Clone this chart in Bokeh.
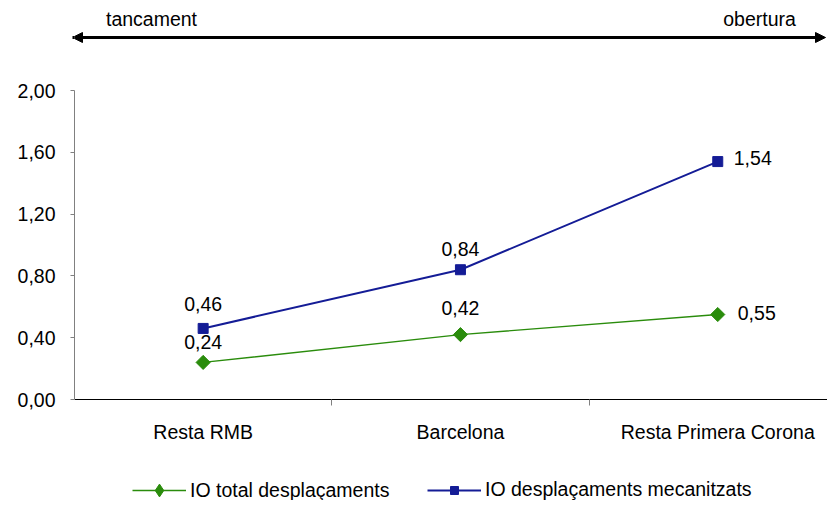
from bokeh.plotting import figure
from bokeh.models import (Range1d, FixedTicker, CustomJSTickFormatter, Arrow, NormalHead,
                          Label, Legend, LegendItem, ColumnDataSource)
from bokeh.embed import file_html
from bokeh.resources import INLINE
from bokeh.core.properties import value
import math

# ---- data ----
categories = ["Resta RMB", "Barcelona", "Resta Primera Corona"]
io_total = [0.24, 0.42, 0.55]
io_mecanitzats = [0.46, 0.84, 1.54]
y_ticks = [0.0, 0.4, 0.8, 1.2, 1.6, 2.0]
series_names = ["IO total desplaçaments", "IO desplaçaments mecanitzats"]
scale_labels = ["tancament", "obertura"]

# ---- styles / layout ----
FONT = "Liberation Sans"
FS = "19.5px"
GREEN = "#2a8c0c"
BLUE = "#141c96"
W, H = 827, 500
LEFT = 74
ZERO_Y = 399          # picture row of value 0
PX_PER_CAT = 257.3
PX_PER_UNIT = 154.5
frame_w = W - LEFT

# label offsets (screen px) per point
total_dx = [0, 0, 39]
total_dy = [-20, -27, -2]
mec_dx = [0, 0, 35]
mec_dy = [-24, -21, -4]


def fx(px):  # picture pixel x -> data x
    return (px - LEFT) / PX_PER_CAT


def fy(py):  # picture pixel y -> data y
    return (ZERO_Y - py) / PX_PER_UNIT


x_pos = [i + 0.5 for i in range(len(categories))]

p = figure(width=W, height=H, output_backend="svg", toolbar_location=None,
           x_range=Range1d(0, frame_w / PX_PER_CAT),
           y_range=Range1d(fy(H), fy(0)),
           min_border_left=LEFT, min_border_right=0, min_border_top=0,
           min_border_bottom=0)
p.xgrid.visible = False
p.ygrid.visible = False
p.outline_line_color = None
p.background_fill_color = "white"
p.border_fill_color = "white"

# x axis (drawn at value 0 inside the frame)
xa = p.xaxis[0]
xa.fixed_location = 0
xa.ticker = FixedTicker(ticks=x_pos, minor_ticks=[i + 1 for i in range(len(categories))])
xa.major_label_overrides = {x: c for x, c in zip(x_pos, categories)}
xa.major_tick_line_color = None
xa.major_tick_out = 0
xa.major_tick_in = 0
xa.minor_tick_out = 6
xa.minor_tick_in = 0
xa.minor_tick_line_color = "#808080"
xa.axis_line_color = "black"
xa.major_label_standoff = 15
xa.major_label_text_font = FONT
xa.major_label_text_font_size = FS
xa.major_label_text_color = "black"

# y axis
ya = p.yaxis[0]
ya.ticker = FixedTicker(ticks=y_ticks)
ya.formatter = CustomJSTickFormatter(code="return tick.toFixed(2).replace('.', ',');")
ya.bounds = (y_ticks[0], y_ticks[-1])
ya.axis_line_color = "#808080"
ya.major_tick_line_color = "#808080"
ya.major_tick_out = 4
ya.major_tick_in = 0
ya.minor_tick_line_color = None
ya.major_label_standoff = 15
ya.major_label_text_font = FONT
ya.major_label_text_font_size = FS
ya.major_label_text_color = "black"

# series
src_t = ColumnDataSource(dict(x=x_pos, y=io_total,
                              lab=[f"{v:.2f}".replace(".", ",") for v in io_total],
                              dx=total_dx, dy=total_dy))
src_m = ColumnDataSource(dict(x=x_pos, y=io_mecanitzats,
                              lab=[f"{v:.2f}".replace(".", ",") for v in io_mecanitzats],
                              dx=mec_dx, dy=mec_dy))

lt = p.line("x", "y", source=src_t, line_color=GREEN, line_width=1.4)
# diamond (used for the legend symbol) sits hidden under the rotated square
dt = p.scatter("x", "y", source=src_t, marker="diamond", size=12,
               fill_color=GREEN, line_color=GREEN)
st = p.scatter("x", "y", source=src_t, marker="square", angle=math.pi / 4, size=10,
               fill_color=GREEN, line_color=GREEN)
lm = p.line("x", "y", source=src_m, line_color=BLUE, line_width=2)
sm = p.scatter("x", "y", source=src_m, marker="square", size=10,
               fill_color=BLUE, line_color=BLUE)

for src in (src_t, src_m):
    p.text("x", "y", text="lab", source=src, x_offset="dx", y_offset="dy",
           text_align="center", text_baseline="middle",
           text_font=value(FONT), text_font_size=FS, text_color="black")

# top arrow and texts
arrow = Arrow(x_start=fx(72), y_start=fy(37), x_end=fx(825), y_end=fy(37),
              line_width=3, line_color="black",
              start=NormalHead(size=10, fill_color="black", line_color="black"),
              end=NormalHead(size=10, fill_color="black", line_color="black"))
p.add_layout(arrow)
for txt, px in zip(scale_labels, [151, 759]):
    p.add_layout(Label(x=fx(px), y=fy(18), text=txt, text_align="center",
                       text_baseline="middle", text_font=FONT, text_font_size=FS,
                       text_color="black"))

common = dict(orientation="horizontal", glyph_width=54, label_standoff=4,
              padding=0, margin=0, border_line_color=None, background_fill_alpha=0,
              label_text_font=FONT, label_text_font_size=FS, label_text_color="black",
              label_text_baseline="middle")
leg_t = Legend(items=[LegendItem(label=series_names[0], renderers=[lt, dt])],
               location=(58, -6), glyph_height=32, **common)
leg_m = Legend(items=[LegendItem(label=series_names[1], renderers=[lm, sm])],
               location=(353, -1), glyph_height=20, **common)
p.add_layout(leg_t)
p.add_layout(leg_m)

open("out.html", "w").write(file_html(p, INLINE))
